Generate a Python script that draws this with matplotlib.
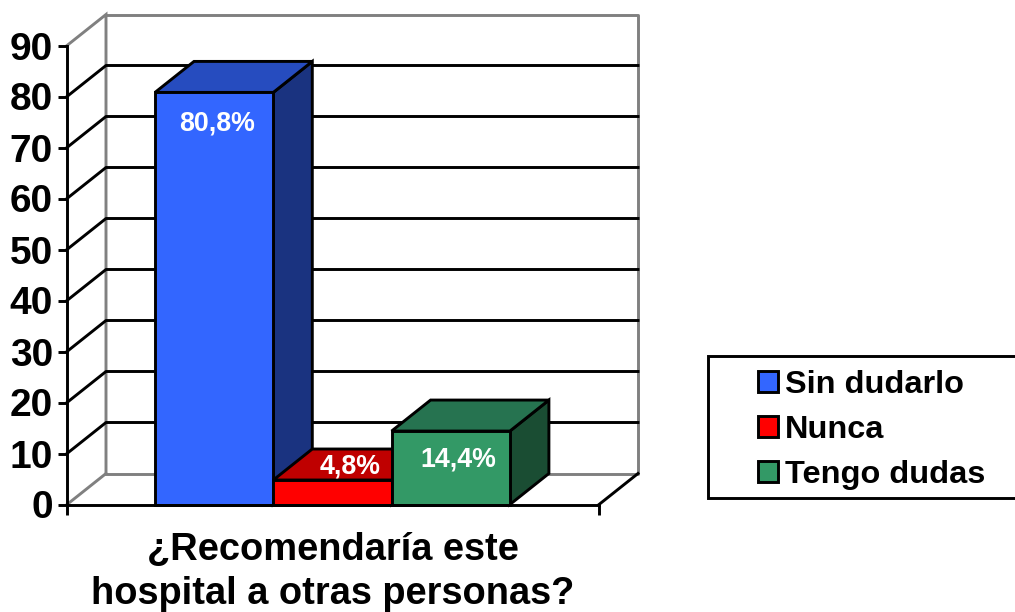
import matplotlib
matplotlib.use("Agg")
import matplotlib.pyplot as plt
from matplotlib.patches import Patch, Polygon, Rectangle

categories = ["Sin dudarlo", "Nunca", "Tengo dudas"]
values = [80.8, 4.8, 14.4]
labels = ["80,8%", "4,8%", "14,4%"]
y_ticks = [0, 10, 20, 30, 40, 50, 60, 70, 80, 90]
x_title = "¿Recomendaría este\nhospital a otras personas?"

front_colors = ["#3366FF", "#FF0000", "#339966"]
top_colors = ["#264CBF", "#BF0000", "#267350"]
side_colors = ["#1A3380", "#800000", "#1A4D33"]

plt.rcParams["font.family"] = ["Liberation Sans", "DejaVu Sans"]
plt.rcParams["font.weight"] = "bold"

W, H = 1015, 612
# chart geometry in pixels of the picture
X0, Y0 = 67, 504.5    # origin of the front plane
PX_X = 118.3          # one bar width
PX_Y = 5.1            # one value unit
DX, DY = 39 / PX_X, 31 / PX_Y   # 3d depth in data units
LW = 2.1
GREY = "#808080"


def data_x(px):
    return (px - X0) / PX_X


def data_y(py):
    return (Y0 - py) / PX_Y


fig = plt.figure(figsize=(W / 100, H / 100), dpi=100)
ax = fig.add_axes([0, 0, 1, 1])
ax.set_xlim(data_x(0), data_x(W))
ax.set_ylim(data_y(H), data_y(0))
ax.patch.set_visible(False)

x_end = data_x(599)
y_top = y_ticks[-1]

# walls, floor and grid
ax.plot([0, DX, DX], [y_top, y_top + DY, DY], color=GREY, lw=LW, zorder=1, solid_joinstyle="miter")
ax.plot([DX, x_end + DX, x_end + DX, DX], [y_top + DY, y_top + DY, DY, DY], color=GREY, lw=LW, zorder=1)
ax.plot([0, DX], [0, DY], color=GREY, lw=LW, zorder=1)
ax.plot([x_end, x_end + DX], [0, DY], color="black", lw=LW, zorder=2)
for t in y_ticks[1:-1]:
    ax.plot([0, DX, x_end + DX], [t, t + DY, t + DY], color="black", lw=LW, zorder=2)

# 3d bars
bar_start = data_x(155)
for i, v in enumerate(values):
    x1 = bar_start + i
    x2 = x1 + 1
    ec = dict(edgecolor="black", lw=LW, joinstyle="miter", zorder=3 + i)
    ax.add_patch(Polygon([(x2, 0), (x2 + DX, DY), (x2 + DX, v + DY), (x2, v)], facecolor=side_colors[i], **ec))
    ax.add_patch(Polygon([(x1, v), (x1 + DX, v + DY), (x2 + DX, v + DY), (x2, v)], facecolor=top_colors[i], **ec))
    ax.add_patch(Rectangle((x1, 0), 1, v, facecolor=front_colors[i], **ec))

# data labels, shifted from the top middle of each bar
label_shift = [(2, -22.5), (13, 9.5), (5.5, -20.5)]
for i, v in enumerate(values):
    ax.annotate(labels[i], (bar_start + i + 0.5, v), xytext=label_shift[i],
                textcoords="offset points", ha="center", va="center",
                color="white", fontsize=19.3, fontweight="bold", zorder=10)

# axes
for name in ["top", "right"]:
    ax.spines[name].set_visible(False)
ax.spines["left"].set_position(("data", 0))
ax.spines["bottom"].set_position(("data", 0))
ax.spines["left"].set_bounds(0, y_top)
ax.spines["bottom"].set_bounds(0, x_end)
ax.spines["left"].set_linewidth(LW)
ax.spines["bottom"].set_linewidth(LW)
ax.spines["left"].set_zorder(9)
ax.spines["bottom"].set_zorder(9)
ax.set_yticks(y_ticks)
ax.set_xticks([0, x_end])
ax.set_xticklabels([])
ax.tick_params(axis="y", length=6.5, width=LW, pad=3.5, labelsize=28)
ax.tick_params(axis="x", length=7, width=LW)

ax.text(data_x(333), data_y(572), x_title, ha="center", va="center",
        fontsize=27.4, fontweight="bold", linespacing=1.3)

# legend
ax.add_patch(Rectangle((data_x(708), data_y(498)), data_x(1030) - data_x(708), 142 / PX_Y,
                       facecolor="white", edgecolor="black", lw=LW, zorder=1))
handles = [Patch(facecolor=c, edgecolor="black", lw=LW) for c in front_colors]
ax.legend(handles, categories, frameon=False, loc="center left",
          bbox_to_anchor=(758 / W, 1 - 430 / H), bbox_transform=fig.transFigure,
          borderpad=0, borderaxespad=0, fontsize=23.4, handlelength=0.61, handleheight=0.61,
          handletextpad=0.23, labelspacing=0.47)

fig.savefig("out.png", dpi=100)
